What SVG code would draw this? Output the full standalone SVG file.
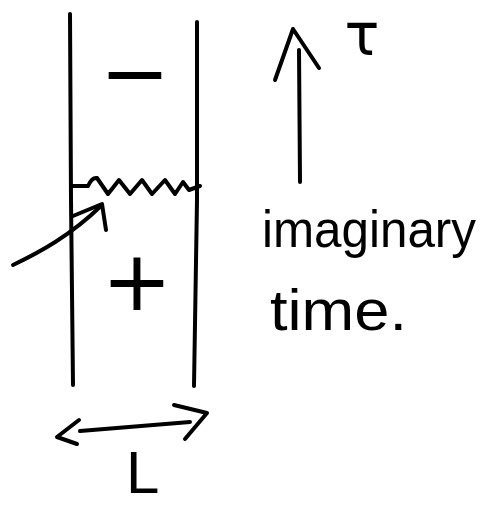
<svg xmlns="http://www.w3.org/2000/svg" width="496" height="506" viewBox="0 0 496 506">
<style>
.ink{fill:none;stroke:#000;stroke-width:4;stroke-linecap:round;stroke-linejoin:round}
.lbl{font-family:"DejaVu Sans",sans-serif;fill:#000}
.hand{font-family:"Liberation Sans",Arial,sans-serif;fill:#000}
</style>
<rect width="496" height="506" fill="#fff"/>
<g id="tube">
<path class="ink" d="M70,14 L71,200 L73,385"/>
<path class="ink" d="M197,22 L197,200 L194,386" stroke-width="3.5"/>
</g>
<g id="domain-wall">
<path class="ink" d="M72,186 L88,186 Q92,177 97,178 L108,194 L119,180 L130,194 L142,180 L152,194 L165,180 L175,194 L183,182 L189,190 L200,186"/>
</g>
<g id="minus-region">
<text class="lbl" x="135" y="102" font-size="84" text-anchor="middle">−</text>
</g>
<g id="plus-region">
<text class="lbl" x="137" y="310" font-size="84" text-anchor="middle">+</text>
</g>
<g id="tau-label">
<text class="lbl" x="362" y="55" font-size="58" text-anchor="middle">τ</text>
</g>
<g id="time-label">
<text class="hand" x="262" y="247" font-size="52" textLength="214" lengthAdjust="spacingAndGlyphs">imaginary</text>
<text class="hand" x="270" y="330" font-size="58" textLength="137" lengthAdjust="spacingAndGlyphs">time.</text>
</g>
<g id="L-label">
<text class="hand" x="126" y="493" font-size="60">L</text>
</g>
<g id="connectors">
<path class="ink" d="M13,265 C40,252 70,236 102,205"/>
<path class="ink" d="M73,216 L102,204 L106,230"/>
<path class="ink" d="M300,182 L299,50"/>
<path class="ink" d="M275,80 L293,29 L319,68"/>
<path class="ink" d="M80,431 L190,422"/>
<path class="ink" d="M79,420 L57,437 L77,444"/>
<path class="ink" d="M174,405 L207,413 L185,439"/>
</g>
</svg>
